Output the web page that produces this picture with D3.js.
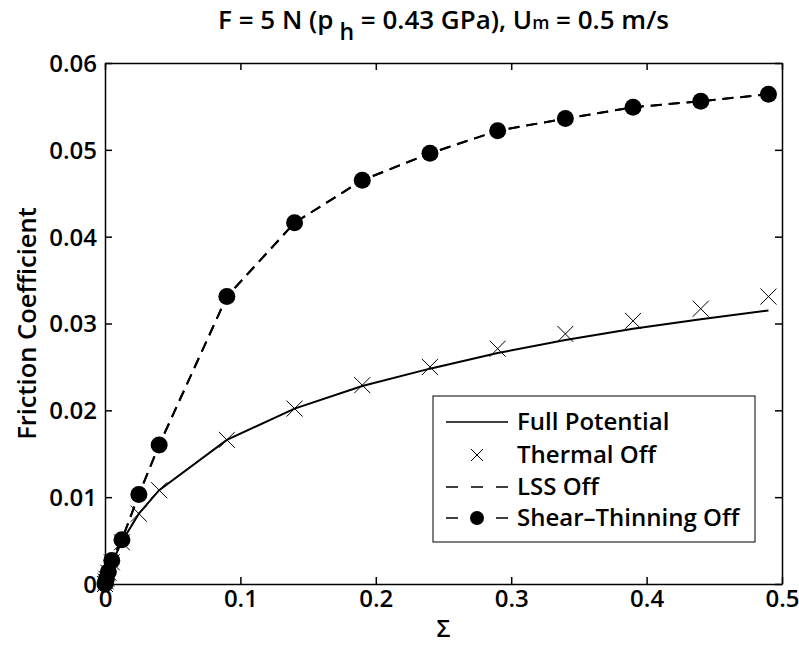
<!DOCTYPE html>
<html>
<head>
<meta charset="utf-8">
<script src="https://cdn.jsdelivr.net/npm/d3@7"></script>
<style>
  body { margin: 0; background: #fff; }
  text { font-family: "Open Sans", sans-serif; font-weight: 650; font-stretch: 94%; fill: #000; }
</style>
</head>
<body>
<div id="chart"></div>
<script>
// data
var sigma = [0, 0.0005, 0.001, 0.0025, 0.005, 0.0125, 0.025, 0.04, 0.09, 0.14, 0.19, 0.24, 0.29, 0.34, 0.39, 0.44, 0.49];
var fullPotential = [0, 0.0003, 0.0006, 0.0013, 0.0024, 0.0049, 0.0081, 0.0108, 0.0166, 0.0202, 0.0228, 0.0248, 0.0266, 0.0281, 0.0294, 0.0305, 0.0315];
var thermalOff = [0, 0.0003, 0.0006, 0.0013, 0.0025, 0.0048, 0.0081, 0.0108, 0.0166, 0.0202, 0.0229, 0.025, 0.0271, 0.0288, 0.0303, 0.0317, 0.0331];
var lssOff = [0, 0.0003, 0.0006, 0.0014, 0.0027, 0.0051, 0.0103, 0.016, 0.0331, 0.0416, 0.0465, 0.0496, 0.0522, 0.0536, 0.0549, 0.0556, 0.0564];
var shearThinningOff = [0, 0.0003, 0.0006, 0.0014, 0.0027, 0.0051, 0.0103, 0.016, 0.0331, 0.0416, 0.0465, 0.0496, 0.0522, 0.0536, 0.0549, 0.0556, 0.0564];

var xTicks = [0, 0.1, 0.2, 0.3, 0.4, 0.5];
var yTicks = [0, 0.01, 0.02, 0.03, 0.04, 0.05, 0.06];
var legendLabels = ["Full Potential", "Thermal Off", "LSS Off", "Shear\u2013Thinning Off"];

var svgWidth = 799;
var svgHeight = 648;

var margin = { top: 63, right: 17, bottom: 64, left: 105 };
var width = svgWidth - margin.left - margin.right;
var height = svgHeight - margin.top - margin.bottom;

var svg = d3.select("#chart")
  .append("svg")
  .attr("width", svgWidth)
  .attr("height", svgHeight);

var chartGroup = svg.append("g")
  .attr("transform", `translate(${margin.left}, ${margin.top})`);

var xScale = d3.scaleLinear().domain([0, 0.5]).range([0, width]);
var yScale = d3.scaleLinear().domain([0, 0.06]).range([height, 0]);

// axes, ticks pointing inward like matlab
var fmt = d => d === 0 ? "0" : d3.format("")(d);

var xAxis = chartGroup.append("g")
  .attr("transform", `translate(0, ${height})`)
  .call(d3.axisBottom(xScale).tickValues(xTicks).tickFormat(fmt).tickSizeInner(-7).tickSizeOuter(0).tickPadding(6));
var yAxis = chartGroup.append("g")
  .call(d3.axisLeft(yScale).tickValues(yTicks).tickFormat(fmt).tickSizeInner(-7).tickSizeOuter(0).tickPadding(8));
var xAxisTop = chartGroup.append("g")
  .call(d3.axisTop(xScale).tickValues(xTicks).tickFormat("").tickSizeInner(-7).tickSizeOuter(0));
var yAxisRight = chartGroup.append("g")
  .attr("transform", `translate(${width}, 0)`)
  .call(d3.axisRight(yScale).tickValues(yTicks).tickFormat("").tickSizeInner(-7).tickSizeOuter(0));

chartGroup.selectAll(".domain, .tick line")
  .attr("stroke", "#000")
  .attr("stroke-width", 1.5);
chartGroup.selectAll(".tick text")
  .attr("font-size", 24)
  .attr("font-family", null);
yAxis.selectAll(".tick text").attr("dy", "0.35em");

// series
var rows = sigma.map((s, i) => ({
  s: s, full: fullPotential[i], thermal: thermalOff[i], lss: lssOff[i], shear: shearThinningOff[i]
}));

var lineFor = key => d3.line().x(d => xScale(d.s)).y(d => yScale(d[key]));

chartGroup.append("path")
  .datum(rows)
  .attr("fill", "none")
  .attr("stroke", "#000")
  .attr("stroke-width", 2)
  .attr("d", lineFor("full"));

chartGroup.append("path")
  .datum(rows)
  .attr("fill", "none")
  .attr("stroke", "#000")
  .attr("stroke-width", 2)
  .attr("stroke-dasharray", "11,7")
  .attr("d", lineFor("lss"));

chartGroup.append("path")
  .datum(rows)
  .attr("fill", "none")
  .attr("stroke", "#000")
  .attr("stroke-width", 2)
  .attr("stroke-dasharray", "11,7")
  .attr("d", lineFor("shear"));

// thermal off x markers
var xm = 8;
chartGroup.selectAll(".xmark")
  .data(rows)
  .enter()
  .append("path")
  .attr("class", "xmark")
  .attr("fill", "none")
  .attr("stroke", "#000")
  .attr("stroke-width", 1)
  .attr("d", d => {
    var cx = xScale(d.s), cy = yScale(d.thermal);
    return `M${cx - xm},${cy - xm}L${cx + xm},${cy + xm}M${cx - xm},${cy + xm}L${cx + xm},${cy - xm}`;
  });

// shear-thinning off dots
chartGroup.selectAll(".dot")
  .data(rows)
  .enter()
  .append("circle")
  .attr("class", "dot")
  .attr("cx", d => xScale(d.s))
  .attr("cy", d => yScale(d.shear))
  .attr("r", 8.5)
  .attr("fill", "#000");

// title
var title = svg.append("text")
  .attr("x", margin.left + width / 2)
  .attr("y", 29)
  .attr("text-anchor", "middle")
  .attr("font-size", 26);
title.append("tspan").text("F = 5 N (p");
title.append("tspan").attr("dy", 11).attr("font-size", 23).text("\u00a0h");
title.append("tspan").attr("dy", -11).text(" = 0.43 GPa), U");
title.append("tspan").attr("font-size", 18).text("m");
title.append("tspan").text(" = 0.5 m/s");

// axis labels
svg.append("text")
  .attr("transform", `translate(36, ${margin.top + height / 2}) rotate(-90)`)
  .attr("text-anchor", "middle")
  .attr("font-size", 25.5)
  .text("Friction Coefficient");

svg.append("text")
  .attr("x", margin.left + width / 2)
  .attr("y", 637)
  .attr("text-anchor", "middle")
  .attr("font-size", 24)
  .text("\u03a3");

// legend
var legend = svg.append("g").attr("transform", "translate(433, 396)");
legend.append("rect")
  .attr("width", 322)
  .attr("height", 146)
  .attr("fill", "#fff")
  .attr("stroke", "#000")
  .attr("stroke-width", 1);

var rowY = [26, 59, 91, 122];
legendLabels.forEach(function(label, i) {
  var g = legend.append("g").attr("transform", `translate(0, ${rowY[i]})`);
  if (i === 0) {
    g.append("line").attr("x1", 13).attr("x2", 75).attr("stroke", "#000").attr("stroke-width", 1.5);
  } else if (i === 1) {
    g.append("path").attr("fill", "none").attr("stroke", "#000").attr("stroke-width", 1)
      .attr("d", `M${44 - 6},-6L${44 + 6},6M${44 - 6},6L${44 + 6},-6`);
  } else {
    g.append("line").attr("x1", 13).attr("x2", 75).attr("stroke", "#000").attr("stroke-width", 1.5)
      .attr("stroke-dasharray", "12,13");
    if (i === 3) g.append("circle").attr("cx", 44).attr("r", 7).attr("fill", "#000");
  }
  g.append("text")
    .attr("x", 84)
    .attr("dy", "0.35em")
    .attr("font-size", 24)
    .text(label);
});
</script>
</body>
</html>
